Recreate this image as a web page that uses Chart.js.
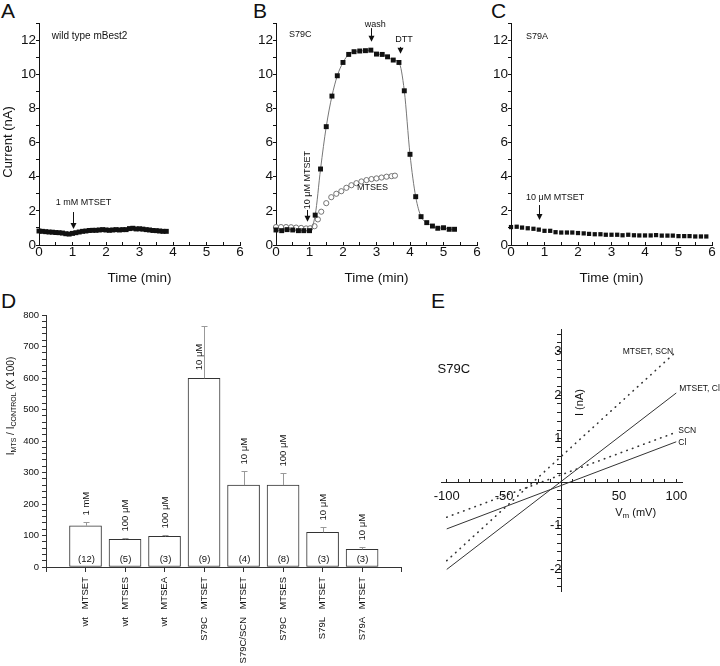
<!DOCTYPE html>
<html>
<head>
<meta charset="utf-8">
<script src="https://cdn.jsdelivr.net/npm/chart.js@4.4.1/dist/chart.umd.min.js"></script>
<style>
body { margin:0; background:#fff; width:720px; height:666px; overflow:hidden; position:relative; font-family:"Liberation Sans", Arial, sans-serif; }
canvas { position:absolute; }
.letter { position:absolute; font-size:21px; line-height:1; color:#111; }
</style>
</head>
<body>
<div class="letter" style="left:1px;top:0px">A</div>
<div class="letter" style="left:253px;top:0px">B</div>
<div class="letter" style="left:491px;top:0px">C</div>
<div class="letter" style="left:1px;top:290px">D</div>
<div class="letter" style="left:431px;top:290px">E</div>

<canvas id="chartA" width="250" height="292" style="left:0;top:0"></canvas>
<canvas id="chartB" width="242" height="292" style="left:245px;top:0"></canvas>
<canvas id="chartC" width="240" height="292" style="left:480px;top:0"></canvas>
<canvas id="chartD" width="418" height="361" style="left:0;top:305px"></canvas>
<canvas id="chartE" width="299" height="285" style="left:421px;top:318px"></canvas>

<script>
// A: wild type, 1 mM MTSET
const timeA = [0, 0.1, 0.2, 0.3, 0.4, 0.5, 0.6, 0.7, 0.8, 0.9, 1.0, 1.1, 1.2, 1.3, 1.4, 1.5, 1.6, 1.7, 1.8, 1.9,
  2.0, 2.1, 2.2, 2.3, 2.4, 2.5, 2.6, 2.7, 2.8, 2.9, 3.0, 3.1, 3.2, 3.3, 3.4, 3.5, 3.6, 3.7, 3.8];
const currentA = [0.82, 0.8, 0.78, 0.76, 0.75, 0.73, 0.72, 0.7, 0.66, 0.64, 0.68, 0.72, 0.76, 0.8, 0.82, 0.85, 0.86, 0.86, 0.88, 0.9,
  0.88, 0.86, 0.88, 0.9, 0.88, 0.9, 0.9, 0.96, 0.98, 0.94, 0.95, 0.93, 0.9, 0.88, 0.85, 0.84, 0.82, 0.8, 0.8];

// B: S79C, MTSET then wash then DTT; MTSES
const timeB = [0, 0.17, 0.33, 0.5, 0.67, 0.83, 1.0, 1.17, 1.33, 1.5, 1.67, 1.83, 2.0, 2.17, 2.33, 2.5, 2.67,
  2.83, 3.0, 3.17, 3.33, 3.5, 3.67, 3.83, 4.0, 4.17, 4.33, 4.5, 4.67, 4.83, 5.0, 5.17, 5.33];
const currentB = [0.88, 0.84, 0.9, 0.88, 0.84, 0.84, 0.84, 1.75, 4.45, 6.93, 8.72, 9.91, 10.69, 11.16, 11.32, 11.36, 11.38,
  11.41, 11.18, 11.16, 11.02, 10.83, 10.69, 9.03, 5.31, 2.83, 1.66, 1.31, 1.11, 0.98, 1.01, 0.92, 0.92];
const timeMtses = [0, 0.15, 0.3, 0.45, 0.6, 0.75, 0.9, 1.02, 1.15, 1.25, 1.35, 1.5, 1.65, 1.8, 1.95, 2.1, 2.25,
  2.4, 2.55, 2.7, 2.85, 3.0, 3.15, 3.3, 3.45, 3.55];
const currentMtses = [1.05, 1.05, 1.05, 1.04, 1.02, 1.0, 0.97, 0.98, 1.1, 1.5, 1.95, 2.45, 2.8, 3.0, 3.15, 3.35, 3.5,
  3.62, 3.72, 3.8, 3.86, 3.9, 3.95, 4.0, 4.03, 4.06];

// C: S79A, 10 uM MTSET
const timeC = [0, 0.17, 0.33, 0.5, 0.67, 0.83, 1.0, 1.17, 1.33, 1.5, 1.67, 1.83, 2.0, 2.17, 2.33, 2.5, 2.67, 2.83,
  3.0, 3.17, 3.33, 3.5, 3.67, 3.83, 4.0, 4.17, 4.33, 4.5, 4.67, 4.83, 5.0, 5.17, 5.33, 5.5, 5.67, 5.83];
const currentC = [1.05, 1.07, 1.02, 0.98, 0.95, 0.9, 0.83, 0.83, 0.75, 0.73, 0.73, 0.73, 0.7, 0.68, 0.65, 0.63, 0.63, 0.6,
  0.6, 0.6, 0.57, 0.6, 0.57, 0.56, 0.56, 0.56, 0.58, 0.55, 0.55, 0.55, 0.52, 0.52, 0.52, 0.5, 0.5, 0.5];

// D: I_MTS / I_CONTROL (x100)
const dTreatments = ['MTSET', 'MTSES', 'MTSEA', 'MTSET', 'MTSET', 'MTSES', 'MTSET', 'MTSET'];
const dGroups = ['wt', 'wt', 'wt', 'S79C', 'S79C/SCN', 'S79C', 'S79L', 'S79A'];
const dRatio = [131, 88, 97, 599, 260, 260, 110, 56];
const dError = [11, 3, 6, 166, 46, 37, 18, 7];
const dConc = ['1 mM', '100 μM', '100 μM', '10 μM', '10 μM', '100 μM', '10 μM', '10 μM'];
const dN = ['(12)', '(5)', '(3)', '(9)', '(4)', '(8)', '(3)', '(3)'];

// E: I-V lines for S79C
const eVoltage = [-100, 100];
const eMtsetScn = [-1.8, 3.0];
const eMtsetCl = [-2.0, 2.05];
const eScn = [-0.8, 1.15];
const eCl = [-1.07, 0.93];
const eLabels = ['MTSET, SCN', 'MTSET, Cl', 'SCN', 'Cl'];

const FONT = '"Liberation Sans", Arial, sans-serif';
Chart.defaults.font.family = FONT;
Chart.defaults.color = '#111';
Chart.defaults.animation = false;
Chart.defaults.responsive = false;
Chart.defaults.plugins.legend.display = false;
Chart.defaults.plugins.tooltip.enabled = false;

function fixWidth(w) { return s => { s.width = w; }; }
function fixHeight(h) { return s => { s.height = h; }; }
function pairs(xs, ys) { return xs.map((x, i) => ({ x: x, y: ys[i] })); }

function text(ctx, s, x, y, size, align, rot) {
  ctx.save();
  ctx.font = size + 'px ' + FONT;
  ctx.fillStyle = '#111';
  ctx.textAlign = align || 'left';
  ctx.textBaseline = 'middle';
  ctx.translate(x, y);
  if (rot) ctx.rotate(rot);
  ctx.fillText(s, 0, 0);
  ctx.restore();
}

function arrowDown(ctx, x, y1, y2) {
  x = Math.round(x) + 0.5;
  ctx.save();
  ctx.strokeStyle = '#111';
  ctx.fillStyle = '#111';
  ctx.lineWidth = 1;
  ctx.beginPath(); ctx.moveTo(x, y1); ctx.lineTo(x, y2 - 5); ctx.stroke();
  ctx.beginPath(); ctx.moveTo(x - 3, y2 - 6); ctx.lineTo(x + 3, y2 - 6); ctx.lineTo(x, y2); ctx.closePath(); ctx.fill();
  ctx.restore();
}

function timeScales(yWidth) {
  return {
    x: {
      type: 'linear', min: 0, max: 6, afterFit: fixHeight(47),
      ticks: { stepSize: 0.5, autoSkip: false, maxRotation: 0, padding: 2, font: { size: 13.5 },
        callback: v => Number.isInteger(v) ? v : '' },
      grid: { drawOnChartArea: false, tickLength: -3, tickColor: '#111' },
      border: { color: '#111' },
      title: { display: true, text: 'Time (min)', font: { size: 13.5 }, padding: { top: 0, bottom: 6 } }
    },
    y: {
      type: 'linear', min: 0, max: 13, afterFit: fixWidth(yWidth),
      ticks: { stepSize: 1, autoSkip: false, padding: 0, font: { size: 13.5 },
        callback: v => v % 2 === 0 ? v : '' },
      grid: { drawOnChartArea: false, tickLength: 3, tickColor: '#111' },
      border: { color: '#111' }
    }
  };
}

const squares = { showLine: false, pointStyle: 'rect', pointRadius: 3.5, pointBackgroundColor: '#111', pointBorderWidth: 0, clip: false };

// Panel A
new Chart(document.getElementById('chartA'), {
  type: 'line',
  data: { datasets: [Object.assign({ data: pairs(timeA, currentA) }, squares)] },
  options: { layout: { padding: { left: 0, top: 23, right: 10, bottom: 0 } }, scales: timeScales(39) },
  plugins: [{
    id: 'notesA',
    afterDraw(chart) {
      const { ctx, scales: { x, y } } = chart;
      text(ctx, 'Current (nA)', 8, 142, 13, 'center', -Math.PI / 2);
      text(ctx, 'wild type mBest2', x.getPixelForValue(0.38), y.getPixelForValue(12.24), 10, 'left');
      text(ctx, '1 mM MTSET', x.getPixelForValue(0.5), y.getPixelForValue(2.5), 9, 'left');
      arrowDown(ctx, x.getPixelForValue(1.0), y.getPixelForValue(1.93), y.getPixelForValue(0.94));
    }
  }]
});

// Panel B
new Chart(document.getElementById('chartB'), {
  type: 'line',
  data: { datasets: [
    Object.assign({}, squares, { data: pairs(timeB, currentB), showLine: true, borderColor: '#777', borderWidth: 1, cubicInterpolationMode: 'monotone' }),
    { data: pairs(timeMtses, currentMtses), showLine: false, pointStyle: 'circle', pointRadius: 2.6,
      pointBackgroundColor: '#fff', pointBorderColor: '#666', pointBorderWidth: 0.9, clip: false }
  ] },
  options: { layout: { padding: { left: 0, top: 23, right: 10, bottom: 0 } }, scales: timeScales(31) },
  plugins: [{
    id: 'notesB',
    afterDraw(chart) {
      const { ctx, scales: { x, y } } = chart;
      text(ctx, 'S79C', x.getPixelForValue(0.39), y.getPixelForValue(12.3), 9, 'left');
      text(ctx, 'wash', x.getPixelForValue(2.96), y.getPixelForValue(12.9), 9, 'center');
      arrowDown(ctx, x.getPixelForValue(2.83), y.getPixelForValue(12.7), y.getPixelForValue(11.9));
      text(ctx, 'DTT', x.getPixelForValue(3.82), y.getPixelForValue(12.04), 9, 'center');
      arrowDown(ctx, x.getPixelForValue(3.7), y.getPixelForValue(11.6), y.getPixelForValue(11.2));
      text(ctx, '10 μM MTSET', x.getPixelForValue(0.93), y.getPixelForValue(3.8), 9, 'center', -Math.PI / 2);
      arrowDown(ctx, x.getPixelForValue(0.92), y.getPixelForValue(2.05), y.getPixelForValue(1.36));
      text(ctx, 'MTSES', x.getPixelForValue(2.88), y.getPixelForValue(3.34), 9, 'center');
    }
  }]
});

// Panel C
new Chart(document.getElementById('chartC'), {
  type: 'line',
  data: { datasets: [Object.assign({}, squares, { data: pairs(timeC, currentC), pointRadius: 3 })] },
  options: { layout: { padding: { left: 0, top: 23, right: 8, bottom: 0 } }, scales: timeScales(31) },
  plugins: [{
    id: 'notesC',
    afterDraw(chart) {
      const { ctx, scales: { x, y } } = chart;
      text(ctx, 'S79A', x.getPixelForValue(0.45), y.getPixelForValue(12.2), 9, 'left');
      text(ctx, '10 μM MTSET', x.getPixelForValue(0.45), y.getPixelForValue(2.77), 9, 'left');
      arrowDown(ctx, x.getPixelForValue(0.84), y.getPixelForValue(2.34), y.getPixelForValue(1.46));
    }
  }]
});

// Panel D
function ratioTitle(ctx, cx, cy) {
  const parts = [['I', 10, 0], ['MTS', 7, 3], [' / I', 10, 0], ['CONTROL', 7, 3], [' (X 100)', 10, 0]];
  ctx.save();
  ctx.translate(cx, cy);
  ctx.rotate(-Math.PI / 2);
  ctx.fillStyle = '#111';
  ctx.textBaseline = 'middle';
  let total = 0;
  parts.forEach(p => { ctx.font = p[1] + 'px ' + FONT; total += ctx.measureText(p[0]).width; });
  let pos = -total / 2;
  parts.forEach(p => {
    ctx.font = p[1] + 'px ' + FONT;
    ctx.fillText(p[0], pos, p[2]);
    pos += ctx.measureText(p[0]).width;
  });
  ctx.restore();
}

new Chart(document.getElementById('chartD'), {
  type: 'bar',
  data: { datasets: [{
    data: dRatio.map((v, i) => ({ x: i + 1, y: v })),
    backgroundColor: '#fff', borderColor: '#333', borderWidth: 1, borderSkipped: false, barThickness: 32
  }] },
  options: {
    layout: { padding: { left: 0, top: 10, right: 16, bottom: 0 } },
    scales: {
      x: {
        type: 'linear', min: 0, max: 9, offset: false, afterFit: fixHeight(50),
        ticks: { stepSize: 1, autoSkip: false, minRotation: 90, maxRotation: 90, padding: 5, font: { size: 9.5 },
          callback: v => dTreatments[v - 1] || '' },
        grid: { drawOnChartArea: false, offset: false, tickLength: 5, tickColor: '#333' },
        border: { color: '#333' }
      },
      x2: {
        type: 'linear', position: 'bottom', min: 0, max: 9, offset: false, afterFit: fixHeight(49),
        ticks: { stepSize: 1, autoSkip: false, minRotation: 90, maxRotation: 90, padding: 0, font: { size: 9.5 },
          callback: v => dGroups[v - 1] || '' },
        grid: { display: false, drawTicks: false, offset: false },
        border: { display: false }
      },
      y: {
        type: 'linear', min: 0, max: 800, afterFit: fixWidth(46),
        ticks: { stepSize: 20, autoSkip: false, padding: 3, font: { size: 9.5 },
          callback: v => v % 100 === 0 ? v : '' },
        grid: { drawOnChartArea: false, tickLength: 4, tickColor: '#333' },
        border: { color: '#333' }
      }
    }
  },
  plugins: [{
    id: 'errorsD',
    afterDraw(chart) {
      const { ctx, scales: { x, y } } = chart;
      ratioTitle(ctx, 11, 101);
      dRatio.forEach((v, i) => {
        const px = Math.round(x.getPixelForValue(i + 1)) + 0.5;
        const top = y.getPixelForValue(v);
        const et = Math.round(y.getPixelForValue(v + dError[i])) + 0.5;
        ctx.save();
        ctx.strokeStyle = '#999';
        ctx.lineWidth = 1;
        ctx.beginPath();
        ctx.moveTo(px, top); ctx.lineTo(px, et);
        ctx.moveTo(px - 3, et); ctx.lineTo(px + 3, et);
        ctx.stroke();
        ctx.restore();
        const beside = top - et > 30;
        text(ctx, dConc[i], beside ? px - 5 : px, beside ? top - 8 : et - 7, 9.5, 'left', -Math.PI / 2);
        text(ctx, dN[i], px, y.getPixelForValue(0) - 8, 9.5, 'center');
      });
    }
  }]
});

// Panel E
const dotted = { borderDash: [0.5, 5.5], borderCapStyle: 'round', borderWidth: 1.6, borderColor: '#333' };
const solid = { borderWidth: 1, borderColor: '#333' };
new Chart(document.getElementById('chartE'), {
  type: 'line',
  data: { datasets: [
    Object.assign({ data: pairs(eVoltage, eMtsetScn) }, dotted),
    Object.assign({ data: pairs(eVoltage, eMtsetCl) }, solid),
    Object.assign({ data: pairs(eVoltage, eScn) }, dotted),
    Object.assign({ data: pairs(eVoltage, eCl) }, solid)
  ] },
  options: {
    layout: { padding: { left: 20, top: 9, right: 38, bottom: 10 } },
    elements: { point: { radius: 0 } },
    scales: {
      x: {
        type: 'linear', min: -105, max: 105, position: { y: 0 }, afterFit: fixHeight(0),
        afterBuildTicks: s => { const t = []; for (let k = -10; k <= 10; k++) t.push({ value: k * 10 }); s.ticks = t; },
        ticks: { autoSkip: false, maxRotation: 0, padding: 10, font: { size: 13 },
          callback: v => (v % 50 === 0 && v !== 0) ? v : '' },
        grid: { drawOnChartArea: false, tickLength: -4, tickColor: '#222' },
        border: { color: '#222' }
      },
      y: {
        type: 'linear', min: -2.5, max: 3.5, position: { x: 0 }, afterFit: fixWidth(0),
        afterBuildTicks: s => { const t = []; for (let k = -12; k <= 17; k++) t.push({ value: k / 5 }); s.ticks = t; },
        ticks: { autoSkip: false, padding: 4, font: { size: 13 },
          callback: v => (Math.abs(v - Math.round(v)) < 1e-6 && Math.round(v) !== 0) ? Math.round(v) : '' },
        grid: { drawOnChartArea: false, tickLength: 4, tickColor: '#222' },
        border: { color: '#222' }
      }
    }
  },
  plugins: [{
    id: 'notesE',
    afterDraw(chart) {
      const { ctx, scales: { x, y } } = chart;
      const ends = [eMtsetScn, eMtsetCl, eScn, eCl];
      const xEnd = x.getPixelForValue(eVoltage[1]);
      text(ctx, eLabels[0], xEnd - 3, y.getPixelForValue(ends[0][1]), 8.5, 'right');
      text(ctx, eLabels[1], xEnd + 3, y.getPixelForValue(ends[1][1]) - 4, 8.5, 'left');
      text(ctx, eLabels[2], xEnd + 2, y.getPixelForValue(ends[2][1]) - 2, 8.5, 'left');
      text(ctx, eLabels[3], xEnd + 2, y.getPixelForValue(ends[3][1]) + 1, 8.5, 'left');
      text(ctx, 'S79C', x.getPixelForValue(-108), y.getPixelForValue(2.6), 13, 'left');
      text(ctx, 'I (nA)', x.getPixelForValue(15.7), y.getPixelForValue(1.83), 11, 'center', -Math.PI / 2);
      // V_m (mV)
      ctx.save();
      ctx.fillStyle = '#111';
      ctx.textBaseline = 'middle';
      const cx = x.getPixelForValue(64.6), cy = y.getPixelForValue(-0.71);
      ctx.font = '11px ' + FONT;
      const w1 = ctx.measureText('V').width, w3 = ctx.measureText(' (mV)').width;
      ctx.font = '8px ' + FONT;
      const w2 = ctx.measureText('m').width;
      let px = cx - (w1 + w2 + w3) / 2;
      ctx.font = '11px ' + FONT; ctx.fillText('V', px, cy); px += w1;
      ctx.font = '8px ' + FONT; ctx.fillText('m', px, cy + 3); px += w2;
      ctx.font = '11px ' + FONT; ctx.fillText(' (mV)', px, cy);
      ctx.restore();
    }
  }]
});
</script>
</body>
</html>
